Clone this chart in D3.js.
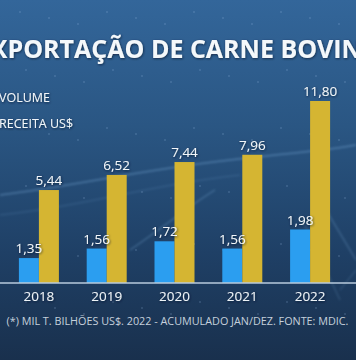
<!DOCTYPE html>
<html><head><meta charset="utf-8">
<script src="https://cdn.jsdelivr.net/npm/d3@7"></script>
<style>
html,body{margin:0;padding:0;background:#1d3a5c;overflow:hidden;}
svg{display:block;}
text{font-family:"Open Sans",sans-serif;}
</style></head>
<body>
<svg id="c" width="356" height="360"></svg>
<script>
const title = "EXPORTAÇÃO DE CARNE BOVINA";
const years = ["2018","2019","2020","2021","2022"];
const volume = [1.35, 1.56, 1.72, 1.56, 1.98];
const receita = [5.44, 6.52, 7.44, 7.96, 11.80];
const seriesNames = ["VOLUME", "RECEITA US$"];
const footnote = "(*) MIL T. BILHÕES US$. 2022 - ACUMULADO JAN/DEZ. FONTE: MDIC.";

const W = 356, H = 360, baseY = 283;
const svg = d3.select("#c");
const defs = svg.append("defs");
const bg = defs.append("linearGradient").attr("id","bg").attr("x1",0).attr("y1",0).attr("x2",0).attr("y2",1);
bg.append("stop").attr("offset","0%").attr("stop-color","#33669a");
bg.append("stop").attr("offset","35%").attr("stop-color","#2a5683");
bg.append("stop").attr("offset","70%").attr("stop-color","#1f4066");
bg.append("stop").attr("offset","100%").attr("stop-color","#19304d");
svg.append("rect").attr("width",W).attr("height",H).attr("fill","url(#bg)");

const glow = defs.append("filter").attr("id","glow");
glow.append("feGaussianBlur").attr("stdDeviation",1.2);
const sh = defs.append("filter").attr("id","sh").attr("x","-10%").attr("y","-30%").attr("width","120%").attr("height","160%");
sh.append("feDropShadow").attr("dx",0.6).attr("dy",0.8).attr("stdDeviation",0.8).attr("flood-color","#0a1a2e").attr("flood-opacity",0.8);

// decorative streaks
const streaks = svg.append("g").attr("fill","none").attr("stroke","#8fc4f0").attr("filter","url(#glow)");
streaks.append("path").attr("d","M0,195 C80,185 140,170 230,160 S330,150 356,145").attr("stroke-opacity",0.35).attr("stroke-width",1.5);
streaks.append("path").attr("d","M0,215 C90,205 150,185 240,175").attr("stroke-opacity",0.2).attr("stroke-width",1);
streaks.append("path").attr("d","M130,250 C160,230 190,205 215,190").attr("stroke-opacity",0.3).attr("stroke-width",1.2);
streaks.append("path").attr("d","M320,200 L356,260").attr("stroke-opacity",0.3).attr("stroke-width",1.2);
streaks.append("path").attr("d","M300,215 L340,300").attr("stroke-opacity",0.25).attr("stroke-width",1);
streaks.append("path").attr("d","M340,290 L356,270").attr("stroke-opacity",0.25).attr("stroke-width",1);

// faint dot grid
const dots = svg.append("g").attr("fill","#a9cdf0").attr("fill-opacity",0.35);
d3.range(0, 6).forEach(r => d3.range(0, 12).forEach(c => {
  dots.append("circle").attr("cx", 20 + c*29 + (r%2)*6).attr("cy", 12 + r*58 + (c%3)*6).attr("r", 0.8);
}));

// scales
const x = d3.scaleBand().domain(years).range([5, 344]).padding(0);
const xs = d3.scaleBand().domain(["v","r"]).range([0, x.bandwidth()]).paddingInner(0).paddingOuter(0.695);
const yVol = d3.scaleLinear().domain([0.8, d3.max(volume)]).range([baseY, baseY - 53.5]);
const yRec = d3.scaleLinear().domain([-1.2, d3.max(receita)]).range([baseY, baseY - 182]);

const data = years.map((y,i) => ({year:y, v:volume[i], r:receita[i]}));
const g = svg.append("g");
const groups = g.selectAll("g.grp").data(data).join("g").attr("class","grp")
  .attr("transform", d => `translate(${x(d.year)},0)`);

groups.append("rect").attr("x", xs("v")).attr("width", xs.bandwidth())
  .attr("y", d => yVol(d.v)).attr("height", d => baseY - yVol(d.v)).attr("fill","#2b9ef0");
groups.append("rect").attr("x", xs("r")).attr("width", xs.bandwidth())
  .attr("y", d => yRec(d.r)).attr("height", d => baseY - yRec(d.r)).attr("fill","#d5b532");

const fmt = v => d3.format(".2f")(v).replace(".", ",");
groups.append("text").attr("x", xs("v") + xs.bandwidth()/2).attr("y", d => yVol(d.v) - 5)
  .attr("text-anchor","middle").attr("font-size",13.5).attr("fill","#f2f6fa").attr("filter","url(#sh)")
  .text(d => fmt(d.v));
groups.append("text").attr("x", xs("r") + xs.bandwidth()/2).attr("y", d => yRec(d.r) - 5)
  .attr("text-anchor","middle").attr("font-size",13.5).attr("fill","#f2f6fa").attr("filter","url(#sh)")
  .text(d => fmt(d.r));

// baseline axis
const xAxis = d3.axisBottom(x).tickSize(0).tickPadding(8);
const ax = svg.append("g").attr("transform", `translate(0,${baseY})`).call(xAxis);
ax.select(".domain").attr("d", `M0,0H${W}`).attr("stroke","#b9cbdd").attr("stroke-width",1.5);
ax.selectAll("text").attr("font-family","Open Sans").attr("font-size",13.5).attr("fill","#eef3f8").attr("filter","url(#sh)");

// title
svg.append("text").attr("x", 178).attr("y", 58).attr("text-anchor","middle")
  .attr("font-size", 25).attr("font-weight", 700).attr("fill","#f4f8fb").attr("filter","url(#sh)")
  .text(title);

// legend labels
svg.selectAll("text.leg").data(seriesNames).join("text").attr("class","leg")
  .attr("x", -1).attr("y", (d,i) => 102 + i*26)
  .attr("font-size", 12.5).attr("fill","#f2f6fa").attr("filter","url(#sh)").text(d => d);

// footnote
svg.append("text").attr("x", 177.5).attr("y", 325).attr("text-anchor","middle")
  .attr("font-size", 10.8).attr("fill","#c5d0dc").text(footnote);
</script>
</body></html>
